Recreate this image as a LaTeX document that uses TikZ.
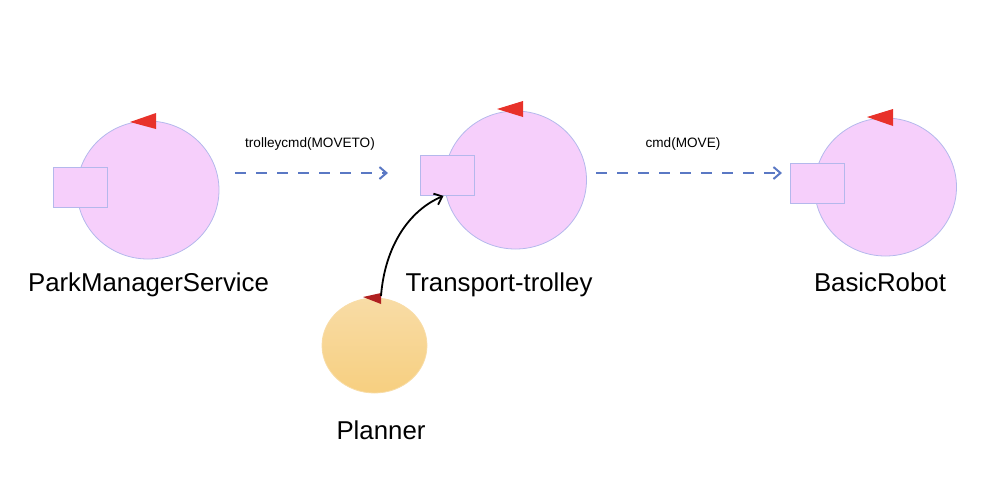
\documentclass[tikz,border=0pt]{standalone}
\usepackage{fontspec}
\setmainfont{Liberation Sans}
\usepackage{tikz}
\usetikzlibrary{shapes.geometric,arrows.meta,positioning}

\definecolor{actorfill}{HTML}{F6CFFB}
\definecolor{actorline}{HTML}{B4B8EC}
\definecolor{flagred}{HTML}{E8322A}
\definecolor{flagdark}{HTML}{B02020}
\definecolor{msgblue}{HTML}{5A78C4}
\definecolor{plantop}{HTML}{F8DCA6}
\definecolor{planbot}{HTML}{F7CF80}

\tikzset{
    actor/.style={ellipse, draw=actorline, fill=actorfill, inner sep=0pt, minimum width=71pt, minimum height=69pt},
    portbox/.style={rectangle, draw=actorline, fill=actorfill, inner sep=0pt, minimum width=27pt, minimum height=20pt},
    actorname/.style={font=\fontsize{12.9}{14}\selectfont, anchor=base},
    msgname/.style={font=\fontsize{6.8}{8}\selectfont, anchor=base},
    msg/.style={msgblue, line width=1pt, dash pattern=on 5.5pt off 5pt, -{Straight Barb[length=3.5pt,width=6pt]}}
}

\begin{document}
\begin{tikzpicture}[x=0.5pt, y=-0.5pt]
    \useasboundingbox (0,0) rectangle (993,495);

    % actors
    \node[actor] (pms) at (148,190) {};
    \node[portbox] (pmsbox) at (80.5,187) {};
    \fill[flagred] (130,122) -- (156,113) -- (156,129) -- cycle;
    \node[actorname] (pmsname) at (148.5,291) {ParkManagerService};

    \node[actor] (tt) at (515.5,180) {};
    \node[portbox] (ttbox) at (447.5,175.5) {};
    \fill[flagred] (497,109) -- (523,101) -- (523,117) -- cycle;
    \node[actorname] (ttname) at (499,291) {Transport-trolley};

    \node[actor] (br) at (885.5,187) {};
    \node[portbox] (brbox) at (817.5,183.5) {};
    \fill[flagred] (867,117) -- (893,109) -- (893,126) -- cycle;
    \node[actorname] (brname) at (880,291) {BasicRobot};

    % planner
    \node[ellipse, top color=plantop, bottom color=planbot, draw=plantop, inner sep=0pt,
          minimum width=52.5pt, minimum height=47.5pt] (planner) at (374.5,345.5) {};
    \fill[flagdark] (363,297) -- (381,293) -- (381,304) -- cycle;
    \node[actorname] (plannername) at (381,439) {Planner};

    % messages
    \coordinate (movetofrom) at (235,173);
    \coordinate (movetoto) at (388,173);
    \coordinate (movefrom) at (596,173);
    \coordinate (moveto) at (782,173);
    \draw[msg] (movetofrom) -- (movetoto);
    \node[msgname] (movetoname) at (310,147) {trolleycmd(MOVETO)};
    \draw[msg] (movefrom) -- (moveto);
    \node[msgname] (movename) at (683,147) {cmd(MOVE)};

    \coordinate (plannerout) at (381,296);
    \draw[line width=0.9pt, -{Straight Barb[length=3.5pt,width=6pt]}] (plannerout) .. controls (385,245) and (410,210) .. ([xshift=-2pt]ttbox.south);
\end{tikzpicture}
\end{document}
